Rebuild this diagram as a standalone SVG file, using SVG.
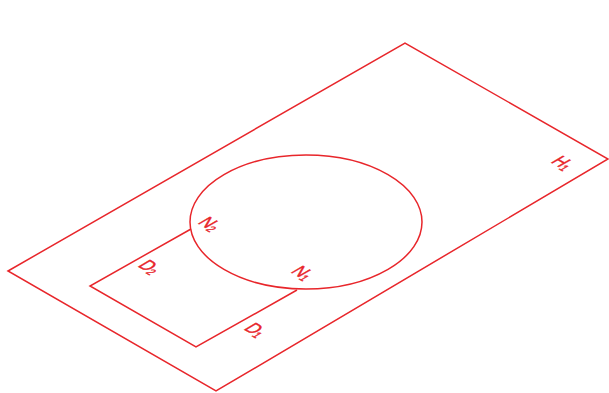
<svg xmlns="http://www.w3.org/2000/svg" width="609" height="393" viewBox="0 0 609 393">
<style>
.ln{fill:none;stroke:#e8262b;stroke-width:1.5;stroke-linejoin:miter}
.lb{fill:#e8262b;stroke:#e8262b;stroke-width:0.5;font-family:"Liberation Sans",Arial,sans-serif;font-size:20px}
.sb{font-size:12px}
</style>
<rect width="609" height="393" fill="#ffffff"/>
<g id="plane-H1">
<polygon class="ln" points="8,271 405,43 608,159 216,391"/>
<text class="lb" transform="matrix(0.69,0.4,-0.866,0.5,550,162)">H<tspan class="sb" dy="2">1</tspan></text>
</g>
<g id="ellipse-N">
<ellipse class="ln" cx="306" cy="222" rx="116" ry="67"/>
</g>
<g id="connectors">
<polyline class="ln" points="191,229 90,286 196,347 297,290"/>
</g>
<g id="label-N2"><text class="lb" transform="matrix(0.69,0.4,-0.866,0.5,197,223)">N<tspan class="sb" dy="2">2</tspan></text></g>
<g id="label-N1"><text class="lb" transform="matrix(0.69,0.4,-0.866,0.5,290,272)">N<tspan class="sb" dy="2">1</tspan></text></g>
<g id="label-D2"><text class="lb" transform="matrix(0.69,0.4,-0.866,0.5,137,266)">D<tspan class="sb" dy="2">2</tspan></text></g>
<g id="label-D1"><text class="lb" transform="matrix(0.69,0.4,-0.866,0.5,243,329)">D<tspan class="sb" dy="2">1</tspan></text></g>
</svg>
